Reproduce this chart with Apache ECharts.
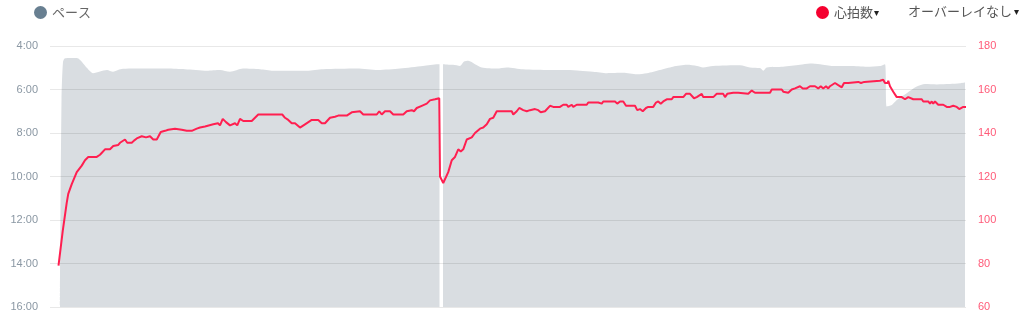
<!DOCTYPE html>
<html><head><meta charset="utf-8">
<script src="https://cdn.jsdelivr.net/npm/echarts@6/dist/echarts.min.js"></script>
<style>html,body{margin:0;padding:0;background:#fff}#c{width:1024px;height:313px}</style>
</head><body><div id="c"></div>
<script>
// elapsed time (s) and heart rate (bpm)
const heartRate = [[34,79],[51,95],[67,108],[73,112],[87,116.5],[93,117],[107,122],[127,125],[140,127.5],[153,129],[187,129],[200,130],[220,132.5],[240,132.5],[253,134],[273,134.5],[280,135.5],[300,137],[309,135.5],[327,135.5],[336,136.5],[347,137.5],[367,138.5],[384,138],[400,138.5],[413,137],[427,137],[443,140.5],[460,141],[473,141.5],[500,142],[507,142.5],[527,141.5],[547,141],[567,141],[587,142],[600,142.5],[620,143],[653,144],[672,144.5],[680,143.5],[691,146.5],[704,145],[720,143.5],[740,144.5],[749,143.5],[760,146.5],[773,145.5],[807,145.5],[833,148.5],[913,148.5],[920,148],[929,148.5],[940,147],[953,146],[967,144.5],[980,144.5],[1000,142.5],[1020,144],[1047,146],[1073,146],[1087,144.5],[1100,144.5],[1120,147],[1140,147.5],[1153,148],[1187,148],[1207,149.5],[1240,150],[1253,148.5],[1307,148.5],[1317,150],[1327,148.5],[1340,150],[1360,150],[1373,148.5],[1413,148.5],[1427,150],[1447,150.5],[1456,150],[1467,151.5],[1487,152.5],[1507,153.5],[1520,155],[1540,155.5],[1547,155],[1557,156],[1560,120],[1567,120],[1573,117],[1580,117.5],[1593,122],[1607,127.5],[1620,129],[1633,132.5],[1643,131.5],[1653,132.5],[1667,137],[1687,138],[1700,140],[1720,142],[1733,142.5],[1747,144],[1760,146.5],[1773,147],[1787,150],[1847,150],[1853,148.5],[1867,150],[1877,151.5],[1893,150.5],[1907,150],[1920,150.5],[1927,150],[1940,151],[1953,150.5],[1963,149.5],[1980,150],[2000,152.5],[2013,152],[2040,152],[2053,153],[2067,153],[2073,152],[2087,153],[2093,152],[2100,151.5],[2107,153],[2147,153],[2153,154],[2193,154],[2200,154.5],[2207,153.5],[2213,154.5],[2220,154],[2227,154.5],[2260,154.5],[2269,153.5],[2280,154.5],[2293,154.5],[2304,152.5],[2340,152.5],[2349,150.5],[2360,151],[2371,150],[2384,151.5],[2393,152],[2413,152],[2424,154],[2433,154.5],[2443,153.5],[2453,154.5],[2467,155.5],[2487,155.5],[2493,156.5],[2533,156.5],[2544,158],[2560,158],[2576,156],[2587,156.5],[2607,158],[2613,156.5],[2653,156.5],[2660,156],[2667,158],[2693,158],[2700,156.5],[2709,158],[2733,158.5],[2753,158.5],[2760,158],[2793,158],[2807,159.5],[2820,158.5],[2880,158.5],[2887,160],[2927,160],[2933,159],[2953,158.5],[2967,160],[2980,160.5],[3000,161.5],[3011,160.5],[3027,160.5],[3040,161.5],[3060,161.5],[3073,160.5],[3083,161.5],[3093,160.5],[3104,161.5],[3113,160.5],[3120,161.5],[3140,163],[3153,162],[3167,161],[3176,163],[3193,163],[3200,163.5],[3233,163.5],[3244,163],[3257,163.5],[3320,164],[3327,164.5],[3333,164.5],[3340,163],[3351,163],[3353,164],[3360,161.5],[3373,159],[3387,156.5],[3407,156.5],[3420,155.5],[3433,156.5],[3453,155.5],[3487,155.5],[3493,154.5],[3513,154.5],[3520,153.5],[3527,154.5],[3533,153.5],[3540,154.5],[3553,153],[3573,153],[3587,152],[3600,152],[3613,152.5],[3627,152],[3637,151],[3653,152],[3664,152]];

// elapsed time (s) and pace (seconds per km); '-' = no data
const pace = [[40,960],[46,389],[52,284],[60,274],[80,273],[100,273],[112,274],[128,284],[148,301],[172,315],[200,310],[228,306],[252,311],[272,306],[292,303],[340,302],[400,302],[468,302],[540,304],[628,308],[680,306],[720,311],[772,302],[840,304],[892,308],[1000,308],[1028,308],[1092,304],[1228,302],[1312,306],[1400,302],[1492,295],[1552,290],[1558,290],[1564,'-'],[1572,290],[1612,292],[1640,295],[1656,283],[1673,281],[1700,290],[1727,299],[1787,302],[1827,299],[1892,304],[2000,306],[2068,306],[2120,308],[2172,311],[2228,315],[2292,314],[2348,318],[2388,315],[2440,306],[2492,297],[2548,292],[2588,295],[2612,299],[2652,295],[2760,293],[2800,299],[2840,301],[2853,308],[2867,299],[2932,297],[3000,292],[3040,288],[3080,290],[3132,295],[3200,295],[3268,297],[3320,295],[3340,290],[3347,407],[3367,403],[3387,389],[3427,370],[3467,352],[3500,345],[3547,346],[3600,345],[3640,343],[3660,341]];

const paceTickLabels = ['4:00','6:00','8:00','10:00','12:00','14:00','16:00'];
const hrTickLabels = ['60','80','100','120','140','160','180'];

const chart = echarts.init(document.getElementById('c'), null, {renderer:'canvas'});
const cjk = '"Noto Sans CJK JP", "Noto Sans", sans-serif';
chart.setOption({
  animation: false,
  backgroundColor: '#fff',
  grid: {left: 50, right: 58, top: 46, bottom: 6, containLabel: false},
  title: {
    text: '{t|オーバーレイなし}{a| ▾}', left: 908, top: 5, padding: 0,
    textStyle: {fontWeight: 'normal',
      rich: {t: {fontSize: 13, color: '#555', fontWeight: 'normal', fontFamily: cjk},
             a: {fontSize: 10, color: '#222', fontWeight: 'normal', fontFamily: cjk}}}
  },
  legend: [
    {data: [{name: 'ペース', itemStyle: {color: '#687f91'}}], left: 34, top: 6, padding: 0,
     icon: 'circle', itemWidth: 13, itemHeight: 13, selectedMode: false,
     textStyle: {fontSize: 13, color: '#666', fontFamily: cjk}},
    {data: [{name: '心拍数', itemStyle: {color: '#f5002f'}}], left: 816, top: 6, padding: 0,
     icon: 'circle', itemWidth: 13, itemHeight: 13, selectedMode: false,
     formatter: n => n + '{a|▾}',
     textStyle: {fontSize: 13, color: '#555', fontFamily: cjk, rich: {a: {fontSize: 10, color: '#222', fontFamily: cjk, padding: [0,0,0,1]}}}}
  ],
  xAxis: {type: 'value', min: 0, max: 3664, show: false},
  yAxis: [
    {type: 'value', inverse: true, min: 240, max: 960, interval: 120, z: 3,
     axisLine: {show: false}, axisTick: {show: false},
     axisLabel: {margin: 12, color: '#8a97a3', fontSize: 11, fontFamily: '"Liberation Sans", Arial, sans-serif',
       formatter: (v, i) => paceTickLabels[i]},
     splitLine: {show: true, lineStyle: {color: 'rgba(0,0,0,0.09)', width: 1}}},
    {type: 'value', min: 60, max: 180, interval: 20,
     axisLine: {show: false}, axisTick: {show: false},
     axisLabel: {margin: 12, color: '#ff5a78', fontSize: 11, fontFamily: '"Liberation Sans", Arial, sans-serif',
       formatter: (v, i) => hrTickLabels[i]},
     splitLine: {show: false}}
  ],
  series: [
    {name: 'ペース', type: 'line', yAxisIndex: 0, data: pace, showSymbol: false, smooth: 0.25,
     connectNulls: false, z: 1,
     itemStyle: {color: '#687f91'}, lineStyle: {width: 0, opacity: 0},
     areaStyle: {origin: 'end', color: '#d9dde1', opacity: 1}},
    {name: '心拍数', type: 'line', yAxisIndex: 1, data: heartRate, showSymbol: false, smooth: false, z: 5,
     itemStyle: {color: '#f5002f'}, lineStyle: {width: 2, color: '#ff1f50'}}
  ]
});
</script>
</body></html>
